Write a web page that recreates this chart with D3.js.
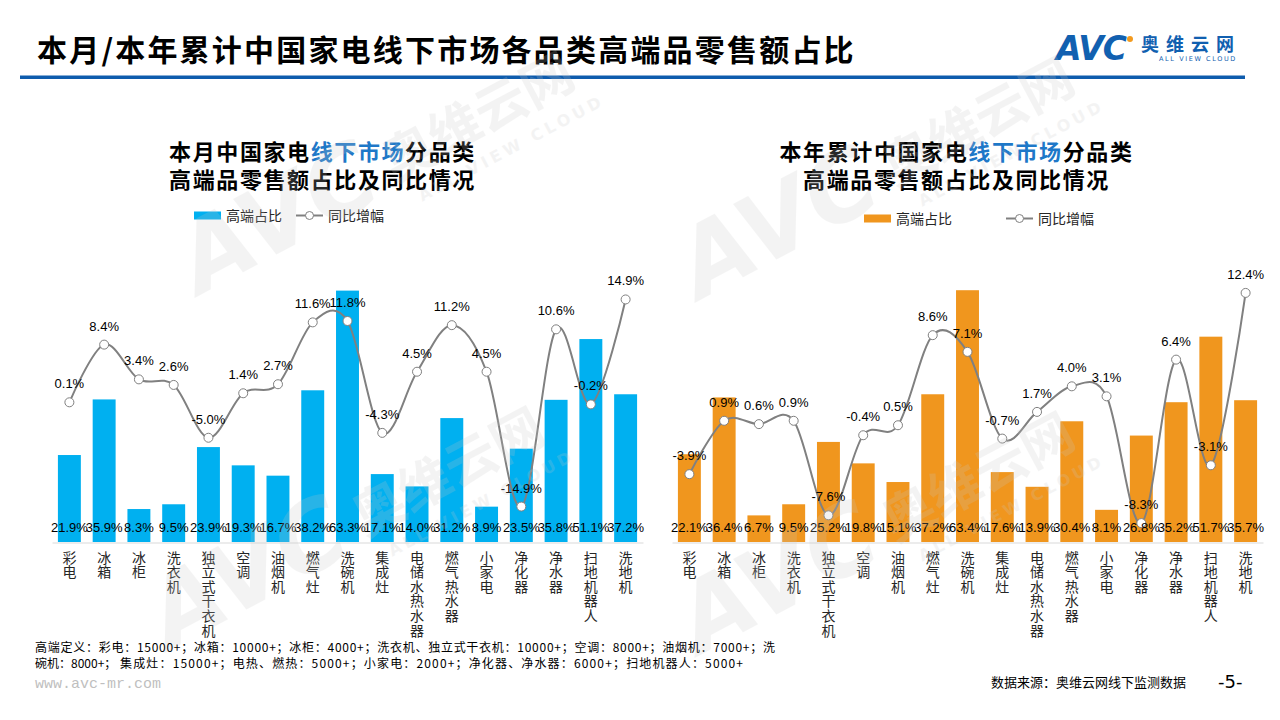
<!DOCTYPE html>
<html><head><meta charset="utf-8">
<script src="https://cdn.jsdelivr.net/npm/d3@7"></script>
<style>
html,body{margin:0;padding:0;background:#fff;}
svg{display:block;}
</style></head>
<body>
<svg id="chart" width="1280" height="720"></svg>
<script>
// ---------- data ----------
const categories = ["彩电","冰箱","冰柜","洗衣机","独立式干衣机","空调","油烟机","燃气灶","洗碗机","集成灶","电储水热水器","燃气热水器","小家电","净化器","净水器","扫地机器人","洗地机"];
const monthShare = [21.9,35.9,8.3,9.5,23.9,19.3,16.7,38.2,63.3,17.1,14.0,31.2,8.9,23.5,35.8,51.1,37.2];
const monthYoY   = [0.1,8.4,3.4,2.6,-5.0,1.4,2.7,11.6,11.8,-4.3,4.5,11.2,4.5,-14.9,10.6,-0.2,14.9];
const ytdShare   = [22.1,36.4,6.7,9.5,25.2,19.8,15.1,37.2,63.4,17.6,13.9,30.4,8.1,26.8,35.2,51.7,35.7];
const ytdYoY     = [-3.9,0.9,0.6,0.9,-7.6,-0.4,0.5,8.6,7.1,-0.7,1.7,4.0,3.1,-8.3,6.4,-3.1,12.4];
const legendLabels = ["高端占比","同比增幅"];
const mainTitle = "本月/本年累计中国家电线下市场各品类高端品零售额占比";
const leftTitle = [["本月中国家电",""],["线下市场","blue"],["分品类",""]];
const rightTitle = [["本年累计中国家电",""],["线下市场","blue"],["分品类",""]];
const subTitle = "高端品零售额占比及同比情况";
const footnote1 = "高端定义：彩电：15000+；冰箱：10000+；冰柜：4000+；洗衣机、独立式干衣机：10000+；空调：8000+；油烟机：7000+；洗";
const footnote2a = "碗机：8000+；";
const footnote2b = "集成灶：15000+；电热、燃热：5000+；小家电：2000+；净化器、净水器：6000+；扫地机器人：5000+";
const sourceText = "数据来源：奥维云网线下监测数据";
const pageNo = "-5-";
const siteText = "www.avc-mr.com";

// ---------- drawing ----------
const svg = d3.select("#chart");
svg.append("rect").attr("width",1280).attr("height",720).attr("fill","#fff");
const CJK = "'Noto Sans CJK SC','Noto Sans',sans-serif";
const NUM = "'Liberation Sans','DejaVu Sans',sans-serif";

// header
svg.append("text").attr("x",37).attr("y",61).text(mainTitle)
  .attr("font-family",CJK).attr("font-weight",700).attr("font-size",30)
  .attr("letter-spacing",2.2).attr("fill","#000");
svg.append("rect").attr("x",20).attr("y",75.5).attr("width",1225).attr("height",3.5).attr("fill","#0E5CAD");
// logo
svg.append("text").attr("x",1056).attr("y",60).text("AVC")
  .attr("font-family","'DejaVu Sans',sans-serif").attr("font-weight",700).attr("font-size",33)
  .attr("letter-spacing",-1).attr("fill","#1160B0").attr("font-style","italic");
svg.append("circle").attr("cx",1130).attr("cy",39).attr("r",3).attr("fill","#F39A1E");
svg.append("text").attr("x",1141).attr("y",51).text("奥维云网")
  .attr("font-family",CJK).attr("font-weight",700).attr("font-size",18)
  .attr("letter-spacing",7).attr("fill","#1160B0");
svg.append("text").attr("x",1159).attr("y",61).text("ALL VIEW CLOUD")
  .attr("font-family","'DejaVu Sans',sans-serif").attr("font-size",6.5)
  .attr("letter-spacing",1.6).attr("fill","#1160B0");

function drawChart(cfg){
  const g = svg.append("g");
  const x = d3.scaleBand().domain(categories).range([cfg.x0,cfg.x1]).paddingInner(0.34).paddingOuter(0.17);
  const yBar = d3.scaleLinear().domain([0,70]).range([542,264]);
  const yLine = d3.scaleLinear().domain(cfg.lineDomain).range([542,264]);
  const data = categories.map((c,i)=>({c, s:cfg.share[i], v:cfg.yoy[i]}));

  // titles
  const t1 = g.append("text").attr("x",cfg.cx).attr("y",160).attr("text-anchor","middle")
    .attr("font-family",CJK).attr("font-weight",700).attr("font-size",22).attr("letter-spacing",1.6);
  cfg.title.forEach(([s,k])=>t1.append("tspan").text(s).attr("fill",k==="blue"?"#1E78C8":"#000"));
  g.append("text").attr("x",cfg.cx).attr("y",188).attr("text-anchor","middle")
    .attr("font-family",CJK).attr("font-weight",700).attr("font-size",22).attr("letter-spacing",1.6)
    .attr("fill","#000").text(subTitle);

  // legend
  const L = cfg.legend;
  g.append("rect").attr("x",L.rx).attr("y",L.y-4).attr("width",27).attr("height",8).attr("fill",cfg.color);
  g.append("text").attr("x",L.rx+32).attr("y",L.y+5).text(legendLabels[0])
    .attr("font-family",CJK).attr("font-size",14).attr("fill","#262626");
  g.append("line").attr("x1",L.lx).attr("x2",L.lx+27).attr("y1",L.y).attr("y2",L.y)
    .attr("stroke","#808080").attr("stroke-width",2);
  g.append("circle").attr("cx",L.lx+13.5).attr("cy",L.y).attr("r",4).attr("fill","#fff")
    .attr("stroke","#808080").attr("stroke-width",1);
  g.append("text").attr("x",L.lx+32).attr("y",L.y+5).text(legendLabels[1])
    .attr("font-family",CJK).attr("font-size",14).attr("fill","#262626");

  // bars
  g.selectAll("rect.bar").data(data).join("rect").attr("class","bar")
    .attr("x",d=>x(d.c)).attr("width",x.bandwidth())
    .attr("y",d=>yBar(d.s)).attr("height",d=>yBar(0)-yBar(d.s)).attr("fill",cfg.color);

  // axis
  const ax = g.append("g").attr("transform","translate(0,542.5)")
    .call(d3.axisBottom(x).tickSize(0).tickSizeOuter(0).tickPadding(0));
  ax.select(".domain").attr("stroke","#d9d9d9").attr("stroke-width",1.2);
  ax.selectAll(".tick text").each(function(d){
    const t = d3.select(this);
    t.text(null).attr("y",0).attr("dy",null)
      .attr("font-family",CJK).attr("font-size",14).attr("fill","#262626");
    [...d].forEach((ch,i)=>t.append("tspan").attr("x",0).attr("y",20+i*14.6).text(ch));
  });

  // line
  const line = d3.line().x(d=>x(d.c)+x.bandwidth()/2).y(d=>yLine(d.v)).curve(d3.curveCardinal.tension(0));
  g.append("path").datum(data).attr("d",line).attr("fill","none")
    .attr("stroke","#808080").attr("stroke-width",2);

  cfg.after = ()=>{
    g.selectAll("circle.pt").data(data).join("circle").attr("class","pt")
      .attr("cx",d=>x(d.c)+x.bandwidth()/2).attr("cy",d=>yLine(d.v)).attr("r",4.5)
      .attr("fill","#fff").attr("stroke","#808080").attr("stroke-width",1);
    // bar labels
    g.selectAll("text.bl").data(data).join("text").attr("class","bl")
      .attr("x",d=>x(d.c)+x.bandwidth()/2).attr("y",532).attr("text-anchor","middle")
      .attr("font-family",NUM).attr("font-size",13).attr("fill","#000")
      .text(d=>d.s.toFixed(1)+"%");
    // line labels
    g.selectAll("text.ll").data(data).join("text").attr("class","ll")
      .attr("x",d=>x(d.c)+x.bandwidth()/2).attr("y",d=>yLine(d.v)-14).attr("text-anchor","middle")
      .attr("font-family",NUM).attr("font-size",13).attr("fill","#000")
      .text(d=>d.v.toFixed(1)+"%");
  };
  return cfg;
}

const c1 = drawChart({x0:52,x1:643,cx:322.5,share:monthShare,yoy:monthYoY,lineDomain:[-20,20],
  color:"#00B0F0",title:leftTitle,legend:{rx:194,lx:296,y:215.5}});
const c2 = drawChart({x0:672,x1:1263,cx:956.5,share:ytdShare,yoy:ytdYoY,lineDomain:[-10,15],
  color:"#F0961E",title:rightTitle,legend:{rx:864,lx:1006,y:218.5}});

// watermark (faint, above bars)
const wm = svg.append("g").attr("pointer-events","none");
[[200,295],[700,300],[170,650],[700,655]].forEach(([px,py])=>{
  const w = wm.append("g").attr("transform",`translate(${px},${py}) rotate(-28)`)
    .attr("fill","#c8c8c8").attr("opacity",0.2);
  w.append("text").text("AVC").attr("font-family","'DejaVu Sans',sans-serif")
    .attr("font-weight",700).attr("font-style","italic").attr("font-size",95);
  w.append("text").attr("x",225).attr("y",-8).text("奥维云网").attr("font-family",CJK)
    .attr("font-weight",700).attr("font-size",52);
  w.append("text").attr("x",240).attr("y",22).text("ALL VIEW CLOUD").attr("font-family","'DejaVu Sans',sans-serif")
    .attr("font-weight",700).attr("font-size",16).attr("letter-spacing",4);
});

c1.after(); c2.after();

// footer
const ft = {"font-family":CJK,"font-size":12,"fill":"#000"};
function applyAttrs(sel,o){Object.entries(o).forEach(([k,v])=>sel.attr(k,v));return sel;}
applyAttrs(svg.append("text").attr("x",35).attr("y",652).text(footnote1)
  .attr("textLength",740).attr("lengthAdjust","spacing"),ft);
applyAttrs(svg.append("text").attr("x",35).attr("y",668).text(footnote2a),ft);
applyAttrs(svg.append("text").attr("x",120).attr("y",668).text(footnote2b)
  .attr("textLength",623).attr("lengthAdjust","spacing"),ft);
svg.append("text").attr("x",35).attr("y",688).text(siteText)
  .attr("font-family","'Liberation Mono','DejaVu Sans Mono',monospace").attr("font-size",15).attr("fill","#bfbfbf");
svg.append("text").attr("x",991).attr("y",687).text(sourceText)
  .attr("font-family",CJK).attr("font-size",13).attr("fill","#000");
svg.append("text").attr("x",1218).attr("y",688).text(pageNo)
  .attr("font-family","'DejaVu Sans',sans-serif").attr("font-size",18).attr("fill","#000");
</script>
</body></html>
